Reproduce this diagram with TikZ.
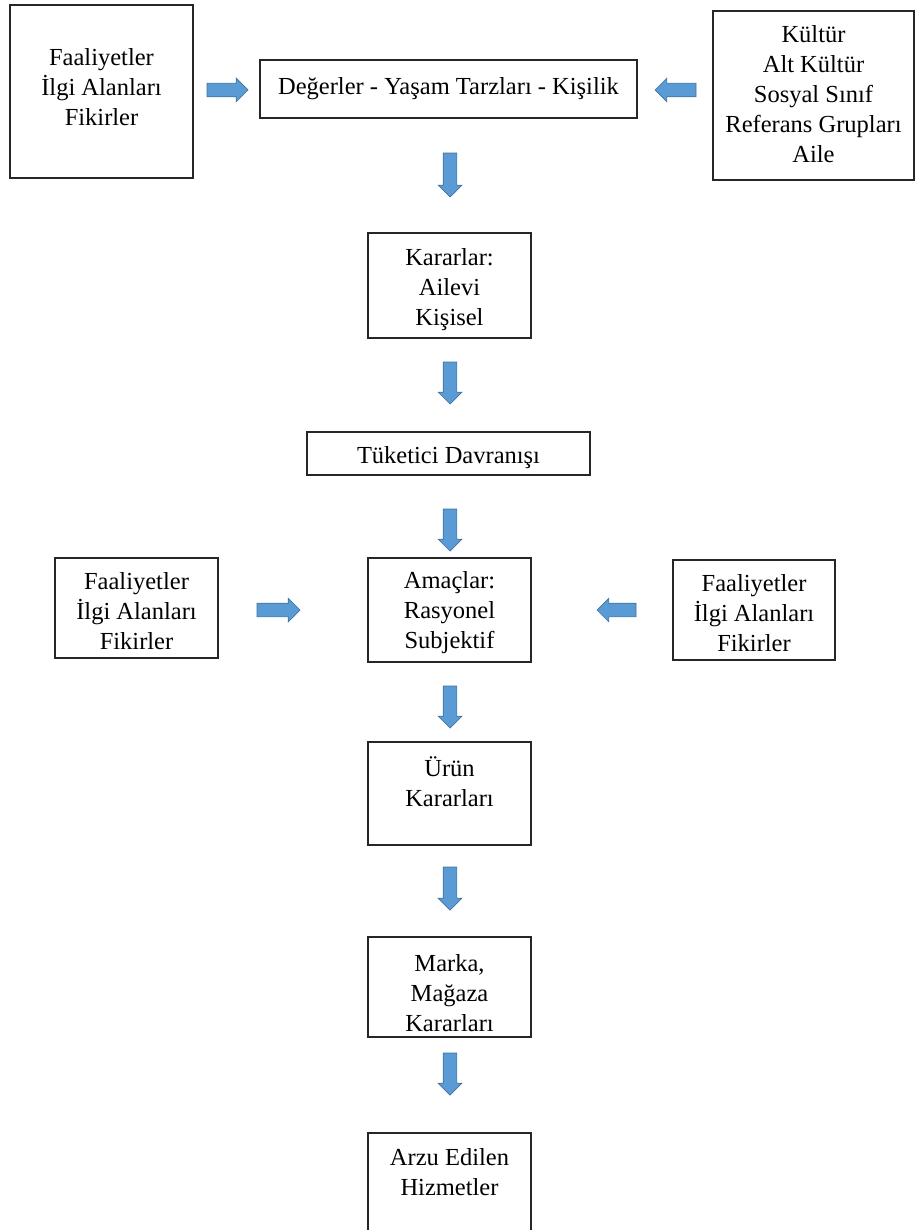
\documentclass[tikz,border=0pt]{standalone}
\usepackage{fontspec}
\setmainfont{Liberation Serif}
\usetikzlibrary{shapes.arrows}
\definecolor{arrowfill}{HTML}{5B9BD5}
\definecolor{arrowline}{HTML}{41719C}
\begin{document}
\begin{tikzpicture}[x=1pt,y=-1pt,
  box/.style={draw=black!85, line width=1.1pt, inner sep=0pt, outer sep=0pt, anchor=north west},
  txt/.style={align=center, inner sep=0pt, font=\fontsize{24.5}{30}\selectfont},
  blockarrow/.style={single arrow, fill=arrowfill, draw=arrowline, line width=0.7pt,
    inner sep=6.5pt, single arrow head extend=5pt, outer sep=0pt},
  rightarrow/.style={blockarrow, anchor=west, shape border rotate=0},
  leftarrow/.style={blockarrow, anchor=east, shape border rotate=180},
  downarrow/.style={blockarrow, anchor=north, shape border rotate=270}]
\useasboundingbox (0,0) rectangle (916,1230);

% boxes
\node[box, minimum width=183pt, minimum height=173pt] (b1) at (10,5) {};
\node[box, minimum width=377pt, minimum height=58pt] (b2) at (260,60) {};
\node[box, minimum width=201pt, minimum height=169pt] (b3) at (713,11) {};
\node[box, minimum width=163pt, minimum height=105pt] (b4) at (368,233) {};
\node[box, minimum width=283pt, minimum height=43pt] (b5) at (307,432) {};
\node[box, minimum width=163pt, minimum height=104pt] (b6) at (368,558) {};
\node[box, minimum width=163pt, minimum height=100pt] (b7) at (55,558) {};
\node[box, minimum width=162pt, minimum height=100pt] (b8) at (673,560) {};
\node[box, minimum width=163pt, minimum height=103pt] (b9) at (368,742) {};
\node[box, minimum width=163pt, minimum height=100pt] (b10) at (368,937) {};
\node[box, minimum width=163pt, minimum height=115pt] (b11) at (368,1133) {};

% box texts
\node[txt] (t1) at ([yshift=-82pt]b1.north) {Faaliyetler\\İlgi Alanları\\Fikirler};
\node[txt] (t2) at ([yshift=-29pt]b2.north) {Değerler - Yaşam Tarzları - Kişilik};
\node[txt] (t3) at ([yshift=-83pt]b3.north) {Kültür\\Alt Kültür\\Sosyal Sınıf\\Referans Grupları\\Aile};
\node[txt] (t4) at ([yshift=-57pt]b4.north) {Kararlar:\\Ailevi\\Kişisel};
\node[txt] (t5) at ([yshift=-26pt]b5.north) {Tüketici Davranışı};
\node[txt] (t6) at ([yshift=-55pt]b6.north) {Amaçlar:\\Rasyonel\\Subjektif};
\node[txt] (t7) at ([yshift=-53pt]b7.north) {Faaliyetler\\İlgi Alanları\\Fikirler};
\node[txt] (t8) at ([yshift=-53pt]b8.north) {Faaliyetler\\İlgi Alanları\\Fikirler};
\node[txt] (t9) at ([yshift=-40pt]b9.north) {Ürün\\Kararları};
\node[txt] (t10) at ([yshift=-56pt]b10.north) {Marka,\\Mağaza\\Kararları};
\node[txt] (t11) at ([yshift=-39pt]b11.north) {Arzu Edilen\\Hizmetler};

% block arrows
\node[rightarrow, minimum height=41pt] (a1) at (207,90) {};
\node[leftarrow, minimum height=41pt] (a2) at (696,90) {};
\node[downarrow, minimum height=44pt] (d1) at (450,153) {};
\node[downarrow, minimum height=42pt] (d2) at (450,362) {};
\node[downarrow, minimum height=42pt] (d3) at (450,509) {};
\node[rightarrow, minimum height=43pt] (a3) at (257,610) {};
\node[leftarrow, minimum height=39pt] (a4) at (636,610) {};
\node[downarrow, minimum height=42pt] (d4) at (450,686) {};
\node[downarrow, minimum height=43pt] (d5) at (450,867) {};
\node[downarrow, minimum height=42pt] (d6) at (450,1053) {};
\end{tikzpicture}
\end{document}
